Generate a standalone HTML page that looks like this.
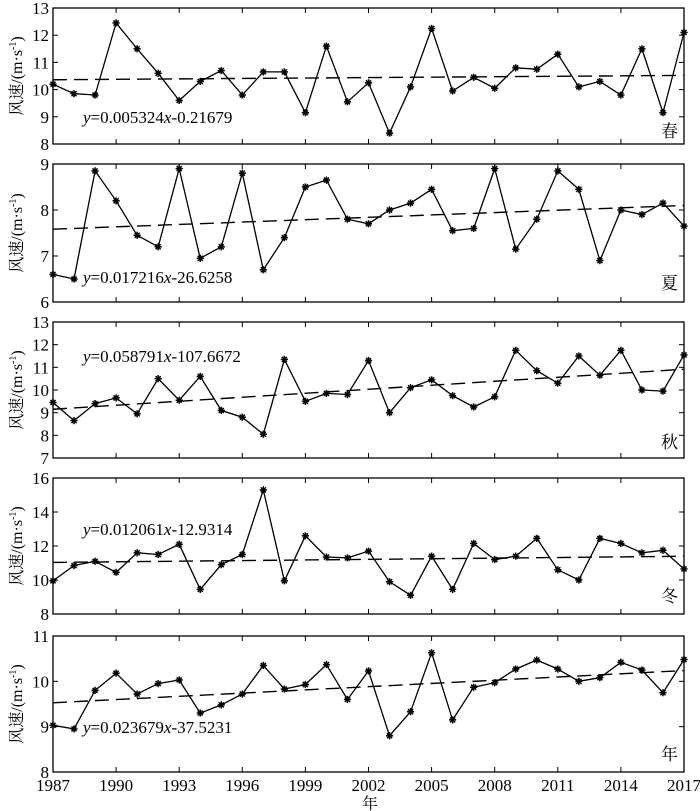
<!DOCTYPE html>
<html><head><meta charset="utf-8"><style>
html,body{margin:0;padding:0;background:#fff;}
svg{display:block;font-family:"Liberation Serif","Noto Serif CJK SC",serif;}
</style></head><body>
<svg id="chart" width="700" height="811" viewBox="0 0 700 811" xmlns="http://www.w3.org/2000/svg"></svg>
<script>
const years = [];
for (let y = 1987; y <= 2017; y++) years.push(y);
const xTickYears = [1987,1990,1993,1996,1999,2002,2005,2008,2011,2014,2017];
const springVals = [10.2,9.85,9.8,12.45,11.5,10.6,9.6,10.3,10.7,9.8,10.65,10.65,9.15,11.6,9.55,10.25,8.4,10.1,12.25,9.95,10.45,10.05,10.8,10.75,11.3,10.1,10.3,9.8,11.5,9.15,12.1];
const summerVals = [6.6,6.5,8.85,8.2,7.45,7.2,8.9,6.95,7.2,8.8,6.7,7.4,8.5,8.65,7.8,7.7,8.0,8.15,8.45,7.55,7.6,8.9,7.15,7.8,8.85,8.45,6.9,8.0,7.9,8.15,7.65];
const autumnVals = [9.45,8.65,9.4,9.65,8.95,10.5,9.55,10.6,9.1,8.8,8.05,11.35,9.5,9.85,9.8,11.3,9.0,10.1,10.45,9.75,9.25,9.7,11.75,10.85,10.3,11.5,10.65,11.75,10.0,9.95,11.55];
const winterVals = [9.95,10.85,11.1,10.45,11.6,11.5,12.1,9.45,10.9,11.5,15.3,9.95,12.6,11.35,11.3,11.7,9.9,9.1,11.4,9.45,12.15,11.2,11.4,12.45,10.6,10.0,12.45,12.15,11.6,11.75,10.65];
const annualVals = [9.03,8.95,9.8,10.18,9.72,9.95,10.03,9.3,9.48,9.72,10.35,9.83,9.93,10.37,9.6,10.23,8.8,9.33,10.63,9.15,9.87,9.97,10.27,10.47,10.27,10.0,10.08,10.42,10.25,9.75,10.48];
const slopes = [0.005324,0.017216,0.058791,0.012061,0.023679];
const intercepts = [-0.21679,-26.6258,-107.6672,-12.9314,-37.5231];
const eqLabels = ["0.005324","0.017216","0.058791","0.012061","0.023679"];
const eqIntercepts = ["-0.21679","-26.6258","-107.6672","-12.9314","-37.5231"];
const seasonLabels = ["春","夏","秋","冬","年"];
const yTicks = [[8,9,10,11,12,13],[6,7,8,9],[7,8,9,10,11,12,13],[8,10,12,14,16],[8,9,10,11]];
const seriesList = [springVals,summerVals,autumnVals,winterVals,annualVals];

const svg = document.getElementById('chart');
const NS = 'http://www.w3.org/2000/svg';
const X0 = 53, X1 = 684;
const panels = [[8,144,8,13],[164,302,6,9],[322,458,7,13],[478,614,8,16],[636,772,8,11]];
const eqY = [123,283,362,535,733];
const seasonY = [137,289,448,602,760];
function xs(yr){ return X0 + (yr-1987)/(2017-1987)*(X1-X0); }
function mk(tag, attrs, parent){ const e=document.createElementNS(NS,tag); for(const k in attrs) e.setAttribute(k,attrs[k]); (parent||svg).appendChild(e); return e; }
const names = ['spring','summer','autumn','winter','annual'];

panels.forEach((p,i)=>{
  const [top,bot,ymin,ymax] = p;
  const ys = v => bot - (v-ymin)/(ymax-ymin)*(bot-top);
  const g = mk('g',{});
  
  
  const frame = mk('rect',{x:X0,y:top,width:X1-X0,height:bot-top,fill:'none',stroke:'#000','stroke-width':1.3},g);
  
  
  xTickYears.forEach(yr=>{
    const x = xs(yr);
    mk('line',{x1:x,y1:top,x2:x,y2:top+5,stroke:'#000','stroke-width':1},g);
    mk('line',{x1:x,y1:bot,x2:x,y2:bot-5,stroke:'#000','stroke-width':1},g);
  });
  yTicks[i].forEach(v=>{
    const y = ys(v);
    mk('line',{x1:X0,y1:y,x2:X0+5,y2:y,stroke:'#000','stroke-width':1},g);
    mk('line',{x1:X1,y1:y,x2:X1-5,y2:y,stroke:'#000','stroke-width':1},g);
    const t = mk('text',{x:X0-4,y:y+6,'text-anchor':'end','font-size':17},g);
    t.textContent = v;
    
    
  });
  const tr = mk('line',{x1:X0,y1:ys(slopes[i]*1987+intercepts[i]),x2:X1,y2:ys(slopes[i]*2017+intercepts[i]),stroke:'#000','stroke-width':1.4,'stroke-dasharray':'14,7'},g);
  
  
  const vals = seriesList[i];
  const pts = vals.map((v,k)=>xs(years[k]).toFixed(1)+','+ys(v).toFixed(1)).join(' ');
  const pl = mk('polyline',{points:pts,fill:'none',stroke:'#000','stroke-width':1.3},g);
  
  
  vals.forEach((v,k)=>{
    const cx = xs(years[k]), cy = ys(v), r = 3.6;
    const m = mk('g',{stroke:'#000','stroke-width':1.5},g);
    
    
    for (let a=0;a<4;a++){ const ang=a*Math.PI/4; mk('line',{x1:cx-r*Math.cos(ang),y1:cy-r*Math.sin(ang),x2:cx+r*Math.cos(ang),y2:cy+r*Math.sin(ang)},m); }
    mk('circle',{cx:cx,cy:cy,r:1.6,fill:'#000',stroke:'none'},m);
  });
  const eq = mk('text',{x:83,y:eqY[i],'font-size':17},g);
  eq.innerHTML = '<tspan font-style="italic">y</tspan>='+eqLabels[i]+'<tspan font-style="italic">x</tspan>'+eqIntercepts[i];
  
  
  const sl = mk('text',{x:678,y:seasonY[i],'text-anchor':'end','font-size':17},g);
  sl.textContent = seasonLabels[i];
  
  
  const yt = mk('text',{x:0,y:0,'text-anchor':'middle','font-size':16,transform:'translate(22,'+((top+bot)/2)+') rotate(-90)'},g);
  yt.innerHTML = '风速/(m·s<tspan dy="-6" font-size="10">-1</tspan><tspan dy="6">)</tspan>';
  
  
});
xTickYears.forEach(yr=>{
  const t = mk('text',{x:xs(yr),y:791,'text-anchor':'middle','font-size':17});
  t.textContent = yr;
  
  
});
const xt = mk('text',{x:370,y:809,'text-anchor':'middle','font-size':16});
xt.textContent = '年';


</script>
</body></html>
